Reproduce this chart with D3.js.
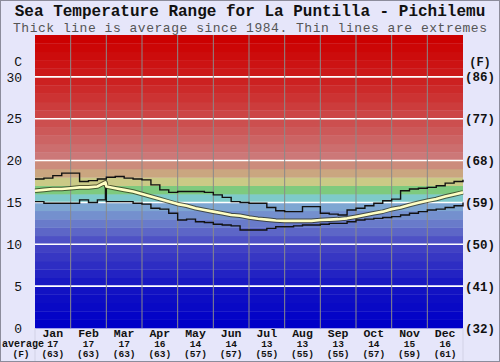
<!DOCTYPE html>
<html>
<head>
<meta charset="utf-8">
<script src="https://cdn.jsdelivr.net/npm/d3@7"></script>
<style>
  body { margin: 0; background: #fff; }
  svg text { font-family: "Liberation Mono", "Courier New", monospace; }
</style>
</head>
<body>
<svg id="chart" width="500" height="362"></svg>
<script>
// monthly summary row
const months = ['Jan', 'Feb', 'Mar', 'Apr', 'May', 'Jun', 'Jul', 'Aug', 'Sep', 'Oct', 'Nov', 'Dec'];
const monthAvgC = [17, 17, 17, 16, 14, 14, 13, 13, 13, 14, 15, 16];
const monthAvgF = [63, 63, 63, 63, 57, 57, 55, 55, 55, 57, 59, 61];

// readings every quarter month, 0 = 1 Jan, 12 = 31 Dec
const avgTemps = [16.4, 16.5, 16.6, 16.6, 16.7, 16.8, 16.8, 16.9, 16.9, 16.7, 16.5, 16.3,
  16.0, 15.7, 15.4, 15.1, 14.8, 14.6, 14.3, 14.1, 13.9, 13.7, 13.5, 13.4,
  13.2, 13.05, 12.95, 12.85, 12.8, 12.8, 12.8, 12.8, 12.9, 12.95, 13.0, 13.1,
  13.3, 13.5, 13.7, 13.9, 14.2, 14.4, 14.7, 14.95, 15.2, 15.4, 15.7, 15.95, 16.2];
const maxTemps = [17.8, 17.9, 18.2, 18.5, 18.5, 17.5, 17.6, 17.8, 18.0, 18.1, 17.9, 17.8,
  17.7, 17.1, 16.5, 16.2, 16.3, 16.3, 16.3, 16.2, 15.9, 15.6, 15.1, 15.0,
  14.9, 14.9, 14.4, 14.0, 13.9, 13.9, 14.5, 14.5, 13.7, 13.6, 13.5, 14.1,
  14.3, 14.6, 14.9, 15.2, 15.4, 16.4, 16.6, 16.7, 16.8, 17.0, 17.3, 17.5, 17.7];
const minTemps = [15.1, 14.9, 14.9, 14.9, 14.9, 15.3, 15.0, 15.3, 15.1, 15.1, 15.1, 14.9,
  14.8, 14.3, 14.2, 13.7, 12.9, 13.0, 12.7, 12.6, 12.4, 12.3, 12.2, 11.7,
  11.7, 11.7, 11.9, 12.1, 12.1, 12.2, 12.3, 12.3, 12.4, 12.5, 12.5, 12.7,
  12.9, 13.0, 13.1, 13.2, 13.3, 13.5, 13.7, 13.9, 14.1, 14.2, 14.4, 14.6, 15.0];

// 29 Feb, few years of data
const leapDay = { month: 1.975, avg: 17.4, min: 17.4 };

const cTicks = [0, 5, 10, 15, 20, 25, 30];

const svg = d3.select('#chart');
const width = 500;
const height = 362;
const plot = { left: 35, right: 463, top: 35, bottom: 328 };

const x = d3.scaleLinear().domain([0, 12]).range([plot.left, plot.right]);
const y = d3.scaleLinear().domain([0, 35]).range([plot.bottom, plot.top]);

const bandColor = d3.scaleLinear()
  .domain([0.5, 5, 10, 12, 14.5, 15.5, 16.5, 17.5, 18.5, 19.5, 20.5, 25, 30, 34.5])
  .range(['#0000c8', '#1414c2', '#4646c4', '#6470c8', '#7ea6d2', '#7ecaca', '#7eca7e',
    '#caca86', '#caa680', '#cc8c7c', '#cc7878', '#cc4a4a', '#cc1c1c', '#cc0000'])
  .clamp(true);

svg.append('rect')
  .attr('x', 0.5).attr('y', 0.5)
  .attr('width', width - 1).attr('height', height - 1)
  .attr('fill', '#e6e6fa')
  .attr('stroke', '#8c8c9c');

// titles
svg.append('text')
  .attr('x', width / 2).attr('y', 16)
  .attr('text-anchor', 'middle')
  .attr('font-size', '16px').attr('font-weight', 'bold')
  .attr('fill', '#111')
  .text('Sea Temperature Range for La Puntilla - Pichilemu');
svg.append('text')
  .attr('x', width / 2).attr('y', 31.5)
  .attr('text-anchor', 'middle')
  .attr('font-size', '13px')
  .attr('textLength', 474)
  .attr('lengthAdjust', 'spacing')
  .attr('fill', '#555')
  .text('Thick line is average since 1984. Thin lines are extremes');

// colour bands, one per degree
const g = svg.append('g');
g.selectAll('rect.band')
  .data(d3.range(0, 35))
  .join('rect')
  .attr('class', 'band')
  .attr('x', plot.left)
  .attr('width', plot.right - plot.left)
  .attr('y', (d) => y(d + 1))
  .attr('height', (d) => y(d) - y(d + 1) + 0.3)
  .attr('fill', (d) => bandColor(d + 0.5));

// white lines every 5 C
g.selectAll('line.hgrid')
  .data(cTicks.filter((d) => d > 0))
  .join('line')
  .attr('class', 'hgrid')
  .attr('x1', plot.left).attr('x2', plot.right)
  .attr('y1', (d) => y(d)).attr('y2', (d) => y(d))
  .attr('stroke', '#fff')
  .attr('stroke-width', 1.6);

// month separators
g.selectAll('line.vgrid')
  .data(d3.range(1, 12))
  .join('line')
  .attr('class', 'vgrid')
  .attr('x1', (d) => x(d)).attr('x2', (d) => x(d))
  .attr('y1', plot.top).attr('y2', plot.bottom)
  .attr('stroke', '#8a8a8a')
  .attr('stroke-width', 1);

// faint edges under the plot
[plot.left, plot.right].forEach((px) => {
  svg.append('line')
    .attr('x1', px).attr('x2', px)
    .attr('y1', plot.bottom).attr('y2', height - 1)
    .attr('stroke', '#d2d2e6');
});

const toPoints = (vals) => vals.map((v, i) => ({ m: i / 4, v }));
const insertSpike = (pts, m, v) => {
  const out = pts.slice();
  const idx = out.findIndex((p) => p.m > m);
  out.splice(idx, 0, { m, v });
  return out;
};

const stepLine = d3.line().x((d) => x(d.m)).y((d) => y(d.v)).curve(d3.curveStepAfter);
const avgLine = d3.line().x((d) => x(d.m)).y((d) => y(d.v));

const maxPts = toPoints(maxTemps);
const minPts = insertSpike(toPoints(minTemps), leapDay.month, leapDay.min);
const avgPts = insertSpike(toPoints(avgTemps), leapDay.month, leapDay.avg);

[maxPts, minPts].forEach((pts) => {
  g.append('path')
    .datum(pts)
    .attr('d', stepLine)
    .attr('fill', 'none')
    .attr('stroke', '#111')
    .attr('stroke-width', 1.4);
});

g.append('path')
  .datum(avgPts)
  .attr('d', avgLine)
  .attr('fill', 'none')
  .attr('stroke', '#2a2a10')
  .attr('stroke-opacity', 0.7)
  .attr('stroke-width', 4.6)
  .attr('stroke-linejoin', 'round');
g.append('path')
  .datum(avgPts)
  .attr('d', avgLine)
  .attr('fill', 'none')
  .attr('stroke', '#ffffc4')
  .attr('stroke-width', 2.6)
  .attr('stroke-linejoin', 'round');

// left axis (C)
const leftAxis = svg.append('g')
  .attr('transform', `translate(${plot.left - 13},0)`)
  .call(d3.axisLeft(y).tickValues(cTicks).tickSize(0).tickPadding(0));
leftAxis.select('.domain').remove();
leftAxis.selectAll('text')
  .attr('font-family', '"DejaVu Sans", sans-serif')
  .attr('font-size', '13px')
  .attr('fill', '#111');
svg.append('text')
  .attr('x', 22).attr('y', 66)
  .attr('text-anchor', 'end')
  .attr('font-family', '"DejaVu Sans", sans-serif')
  .attr('font-size', '13px')
  .attr('fill', '#111')
  .text('C');

// right axis (F)
const rightAxis = svg.append('g')
  .attr('transform', `translate(${plot.right + 2},0)`)
  .call(d3.axisRight(y).tickValues(cTicks).tickSize(0).tickPadding(0)
    .tickFormat((c) => `(${Math.round(c * 9 / 5 + 32)})`));
rightAxis.select('.domain').remove();
rightAxis.selectAll('text')
  .attr('font-family', '"Liberation Mono", "Courier New", monospace')
  .attr('font-weight', 'bold')
  .attr('font-size', '12.5px')
  .attr('fill', '#111');
svg.append('text')
  .attr('x', 480).attr('y', 66)
  .attr('text-anchor', 'middle')
  .attr('font-weight', 'bold')
  .attr('font-size', '12px')
  .attr('fill', '#111')
  .text('(F)');

// month labels and averages
const bottom = svg.append('g');
bottom.selectAll('text.month')
  .data(months)
  .join('text')
  .attr('class', 'month')
  .attr('x', (d, i) => x(i + 0.5))
  .attr('y', 336.5)
  .attr('text-anchor', 'middle')
  .attr('font-weight', 'bold')
  .attr('font-size', '11.5px')
  .attr('fill', '#111')
  .text((d) => d);
bottom.selectAll('text.avgc')
  .data(monthAvgC)
  .join('text')
  .attr('class', 'avgc')
  .attr('x', (d, i) => x(i + 0.5))
  .attr('y', 347)
  .attr('text-anchor', 'middle')
  .attr('font-weight', 'bold')
  .attr('font-size', '9.5px')
  .attr('fill', '#111')
  .text((d) => d);
bottom.selectAll('text.avgf')
  .data(monthAvgF)
  .join('text')
  .attr('class', 'avgf')
  .attr('x', (d, i) => x(i + 0.5))
  .attr('y', 356.5)
  .attr('text-anchor', 'middle')
  .attr('font-weight', 'bold')
  .attr('font-size', '9.5px')
  .attr('fill', '#111')
  .text((d) => `(${d})`);
svg.append('text')
  .attr('x', 2).attr('y', 346.5)
  .attr('font-weight', 'bold')
  .attr('font-size', '10px')
  .attr('fill', '#111')
  .text('average');
svg.append('text')
  .attr('x', 21).attr('y', 356.5)
  .attr('text-anchor', 'middle')
  .attr('font-weight', 'bold')
  .attr('font-size', '9.5px')
  .attr('fill', '#111')
  .text('(F)');
</script>
</body>
</html>
